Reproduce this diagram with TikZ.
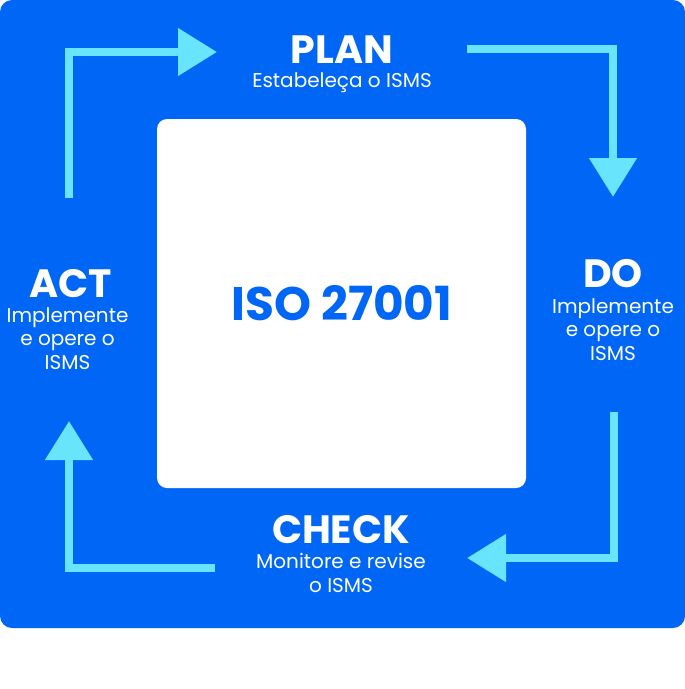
\documentclass[tikz,border=0pt]{standalone}
\usepackage{fontspec}
\setmainfont{Poppins}
\usetikzlibrary{arrows.meta,positioning}
\definecolor{isoblue}{HTML}{0066F5}
\definecolor{isocyan}{HTML}{68E5FD}

\begin{document}
\begin{tikzpicture}[x=1pt,y=-1pt,
  phase/.style={text=white,font=\fontsize{39.5}{39.5}\selectfont\bfseries,inner sep=0pt},
  phasetext/.style={text=white,font=\fontsize{20}{23.5}\selectfont,align=center,inner sep=0pt},
  cyclearrow/.style={draw=isocyan,line width=8pt,-{Triangle[length=39pt,width=46pt]}}]
\useasboundingbox (0,0) rectangle (685,689);
\fill[isoblue,rounded corners=12pt] (0,0) rectangle (685,628);
\fill[white,rounded corners=10pt] (157,119) rectangle (526,488);
\node[text=isoblue,font=\fontsize{47}{47}\selectfont\bfseries] (iso) at (342,303) {ISO 27001};

\node[phase,anchor=base] (plan) at (342,63) {PLAN};
\node[phasetext,below=9pt of plan] (plantext) {Estabeleça o ISMS};
\node[phase,anchor=base] (do) at (613,287) {DO};
\node[phasetext,below=11pt of do] (dotext) {Implemente\\e opere o\\ISMS};
\node[phase,anchor=base] (check) at (341,543) {CHECK};
\node[phasetext,below=10pt of check] (checktext) {Monitore e revise\\o ISMS};
\node[phase,anchor=base] (act) at (71,297) {ACT};
\node[phasetext,below=10pt of act.south west,anchor=north,xshift=38pt] (acttext) {Implemente\\e opere o\\ISMS};

\coordinate (actfrom) at (69,198);
\coordinate (planto) at (217,52);
\coordinate (planfrom) at (467,49);
\coordinate (doto) at (613,197);
\coordinate (dofrom) at (614,412);
\coordinate (checkto) at (467,558);
\coordinate (checkfrom) at (215,568);
\coordinate (actto) at (69,421);
\draw[cyclearrow] (actfrom) |- (planto);
\draw[cyclearrow] (planfrom) -| (doto);
\draw[cyclearrow] (dofrom) |- (checkto);
\draw[cyclearrow] (checkfrom) -| (actto);
\end{tikzpicture}
\end{document}
